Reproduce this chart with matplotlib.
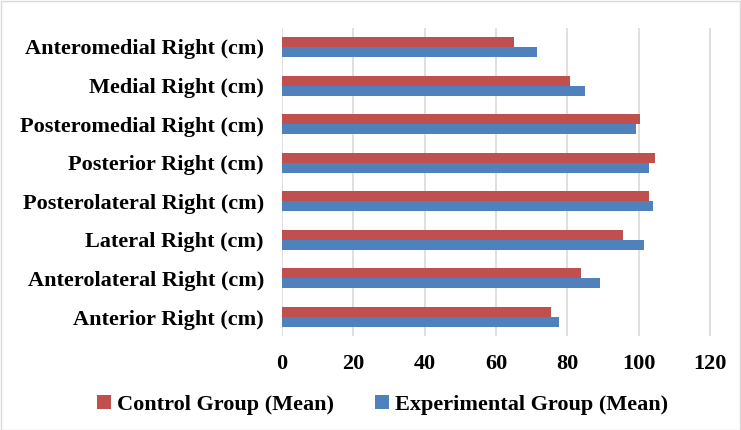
import numpy as np
import matplotlib.pyplot as plt
from matplotlib.patches import Rectangle

# directions, listed bottom to top
categories = ['Anterior Right (cm)', 'Anterolateral Right (cm)', 'Lateral Right (cm)',
              'Posterolateral Right (cm)', 'Posterior Right (cm)', 'Posteromedial Right (cm)',
              'Medial Right (cm)', 'Anteromedial Right (cm)']
control_mean = [75.4, 83.9, 95.7, 102.9, 104.5, 100.4, 80.9, 65.0]
experimental_mean = [77.8, 89.2, 101.4, 104.0, 102.9, 99.3, 84.9, 71.5]
xticks = [0, 20, 40, 60, 80, 100, 120]

plt.rcParams['font.family'] = ['Liberation Serif', 'DejaVu Serif']
plt.rcParams['font.weight'] = 'bold'

fig = plt.figure(figsize=(7.41, 4.30), dpi=100)
ax = fig.add_axes([282 / 741, 1 - 336.3 / 430, (741 - 282 - 8) / 741, 308.6 / 430])

y = np.arange(len(categories))
h = 0.26
ax.barh(y + h / 2, control_mean, height=h, color='#C0504D', label='Control Group (Mean)')
ax.barh(y - h / 2, experimental_mean, height=h, color='#4F81BD', label='Experimental Group (Mean)')

ax.set_xlim(0, 126.5)
ax.set_ylim(-0.5, len(categories) - 0.5)
ax.set_xticks(xticks)
ax.set_yticks(y)
ax.set_yticklabels(categories, fontsize=16, fontweight='bold')
ax.set_xticklabels([str(t) for t in xticks], fontsize=16, fontweight='bold')
ax.tick_params(axis='both', length=0)
ax.tick_params(axis='y', pad=13)
ax.tick_params(axis='x', pad=13)
ax.grid(axis='x', color='#D9D9D9', linewidth=1.2)
ax.set_axisbelow(True)
for s in ax.spines.values():
    s.set_visible(False)

fig.legend(loc='center', bbox_to_anchor=(383 / 741, 1 - 405 / 430), ncol=2,
           frameon=False, handlelength=0.6, handleheight=0.6,
           handletextpad=0.3, columnspacing=1.85, prop={'weight': 'bold', 'size': 16})

fig.patches.append(Rectangle((0.001, 0.001), 0.997, 0.997, transform=fig.transFigure,
                             fill=False, edgecolor='#D9D9D9', linewidth=1))

fig.savefig('out.png', dpi=100)
